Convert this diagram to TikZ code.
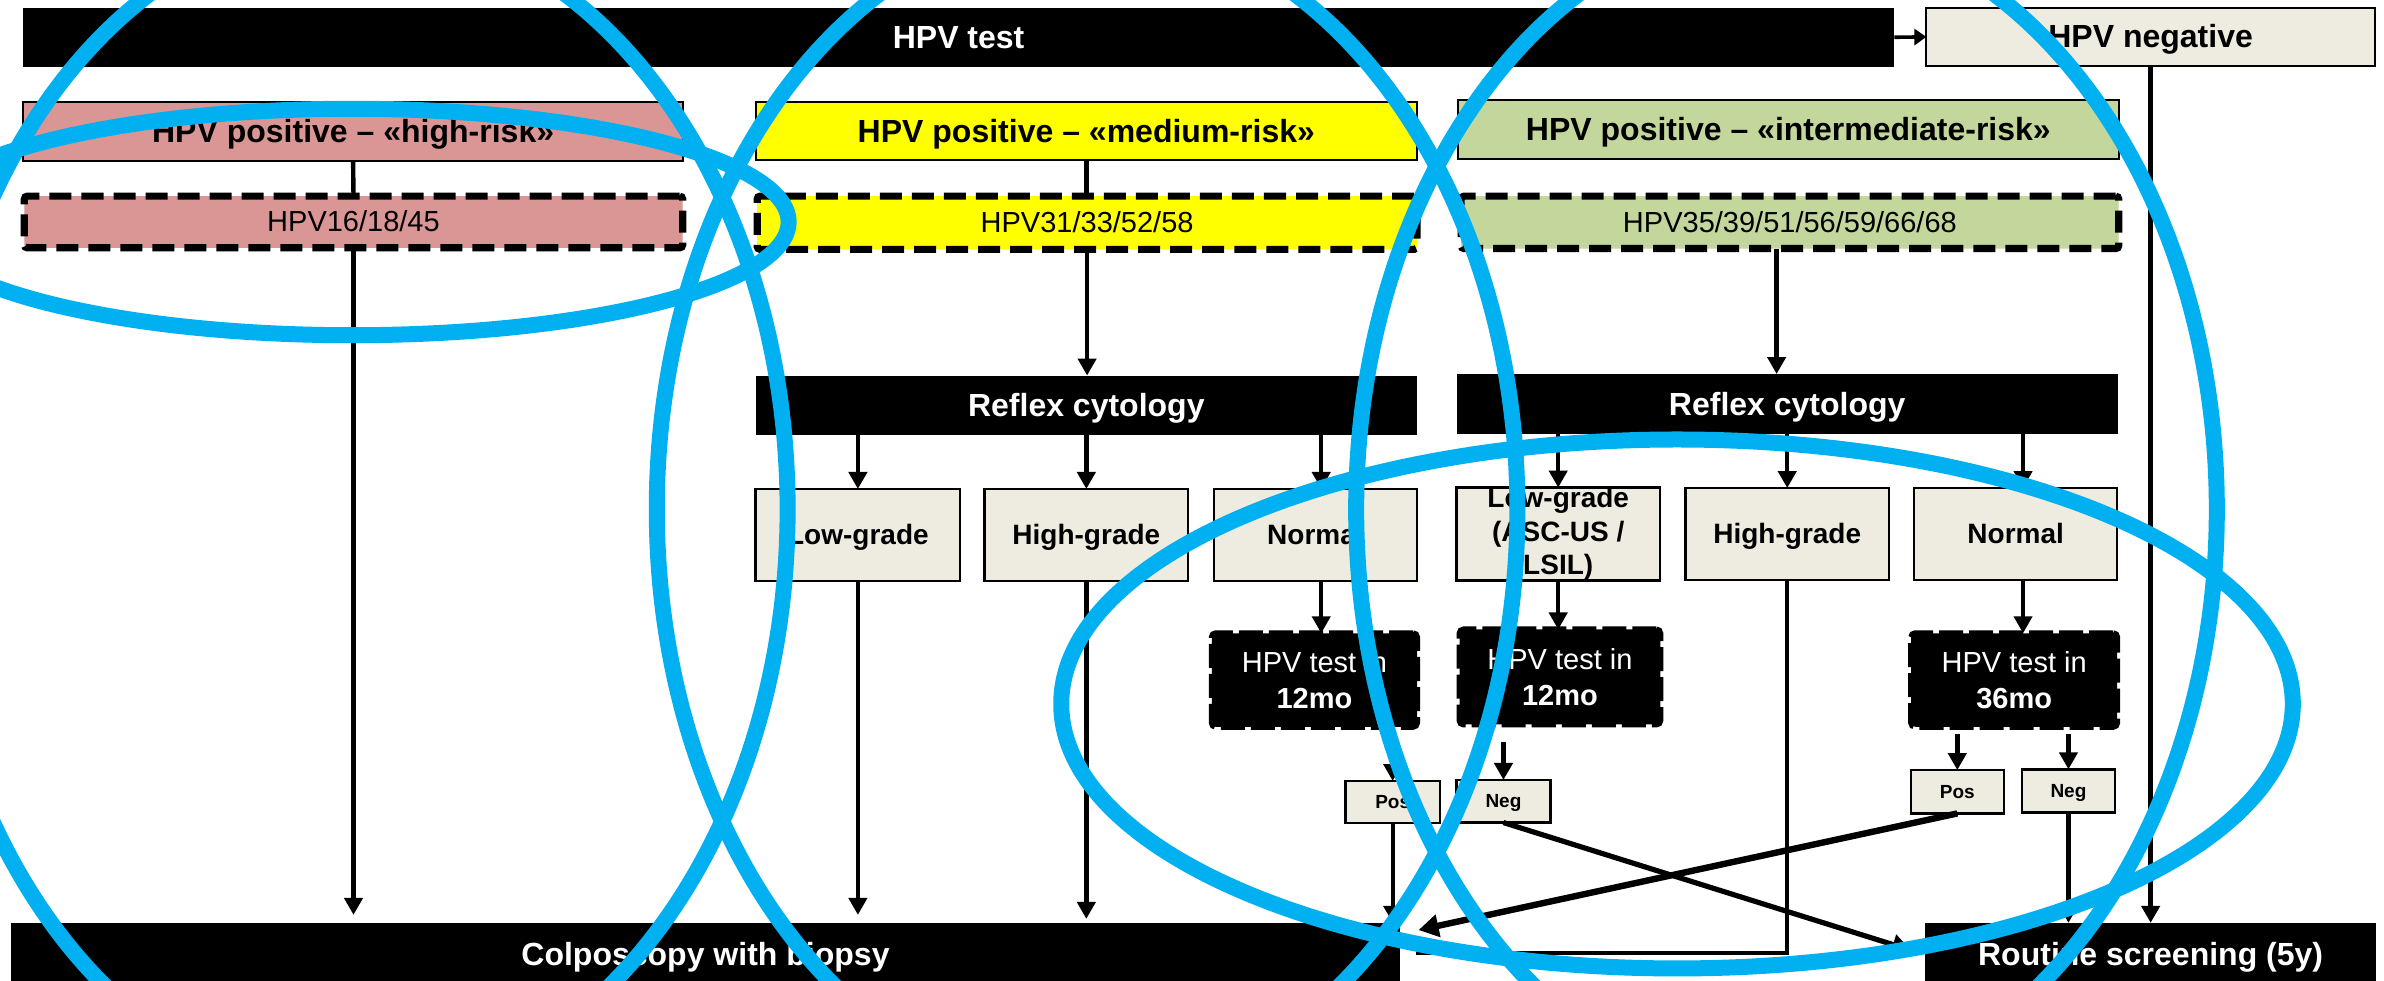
\documentclass[tikz,border=0pt]{standalone}
\usepackage{fontspec}
\setmainfont{Liberation Sans}
\usetikzlibrary{arrows.meta}
\definecolor{pinkf}{HTML}{DA9694}
\definecolor{yellowf}{HTML}{FFFF00}
\definecolor{greenf}{HTML}{C3D69B}
\definecolor{beigef}{HTML}{EEECE1}
\definecolor{ringc}{HTML}{00B0F0}
\tikzset{
  base/.style={inner sep=0pt, outer sep=0pt, align=center},
  fsixteen/.style={font=\fontsize{16}{19}\selectfont\bfseries, text height=14.5pt, text depth=3.4pt},
  blackbar/.style={base, fill=black, text=white, fsixteen},
  headbox/.style={base, draw=black, line width=1pt, fsixteen},
  typebox/.style={base, draw=black, line width=3.6pt, dash pattern=on 11pt off 5pt,
    rounded corners=1.5pt, font=\fontsize{14.5}{17}\selectfont, text height=13.1pt, text depth=3.1pt},
  resbox/.style={base, draw=black, line width=1.2pt, fill=beigef, font=\fontsize{14}{16.7}\selectfont\bfseries},
  resone/.style={resbox, text height=12.7pt, text depth=3pt},
  testbox/.style={base, draw=black, fill=black, line width=3pt, dash pattern=on 12pt off 3pt,
    rounded corners=2pt, text=white, font=\fontsize{14.5}{18.2}\selectfont},
  pnbox/.style={base, draw=black, line width=1.2pt, fill=beigef,
    font=\fontsize{9.5}{11}\selectfont\bfseries, text height=8.6pt, text depth=2pt},
  conn/.style={line width=2.2pt},
  arr/.style={conn, -{Triangle[length=8.5pt,width=9pt]}},
  smallarr/.style={line width=1.8pt, -{Triangle[length=6pt,width=8pt]}},
  midarr/.style={line width=2.6pt, -{Triangle[length=9.5pt,width=10pt]}},
  thickarr/.style={line width=3.2pt, -{Triangle[length=10pt,width=11pt]}},
  ring/.style={draw=ringc, line width=8pt},
}
\newcommand\bx[7]{\node[#2, minimum width={(#5-#3)*0.76pt}, minimum height={(#6-#4)*0.76pt}] (#1) at ({(#3+#5)/2},{(#4+#6)/2}) {#7};}
\begin{document}
\begin{tikzpicture}[x=0.76pt, y=-0.76pt]
\useasboundingbox (0,0) rectangle (1568,645);
\clip (0,0) rectangle (1568,645);

% top row
\bx{test}{blackbar}{15}{5}{1246}{44}{HPV test}
\bx{neg}{headbox, fill=beigef}{1267}{5}{1562}{43.5}{HPV negative}

% risk groups
\bx{hr}{headbox, fill=pinkf}{15}{67}{449.5}{106}{HPV positive – «high-risk»}
\bx{mr}{headbox, fill=yellowf}{497}{67}{932}{105.5}{HPV positive – «medium-risk»}
\bx{ir}{headbox, fill=greenf}{959}{66}{1393.5}{104.5}{HPV positive – «intermediate-risk»}

% genotypes
\bx{hrt}{typebox, fill=pinkf}{16}{129}{449}{163}{HPV16/18/45}
\bx{mrt}{typebox, fill=yellowf}{498}{129}{932}{164}{HPV31/33/52/58}
\bx{irt}{typebox, fill=greenf}{961}{129}{1393.5}{163.5}{HPV35/39/51/56/59/66/68}

% reflex cytology
\bx{rc1}{blackbar}{497}{247}{932}{286}{Reflex cytology}
\bx{rc2}{blackbar}{958}{246}{1393}{285.5}{Reflex cytology}

% cytology results
\bx{lg1}{resone}{497}{321.6}{631.5}{382}{Low-grade}
\bx{hg1}{resone}{647.6}{321.6}{781.4}{382}{High-grade}
\bx{nm1}{resone}{798.4}{321.6}{932}{382}{Normal}
\bx{lg2}{resbox}{958}{321}{1091.7}{381.5}{Low-grade\\(ASC-US /\\LSIL)}
\bx{hg2}{resone}{1108.6}{321}{1242.4}{381.5}{High-grade}
\bx{nm2}{resone}{1259}{321}{1392.5}{381.5}{Normal}

% follow-up HPV tests
\bx{t1}{testbox}{797}{416.5}{932}{478}{HPV test in\\\textbf{12mo}}
\bx{t2}{testbox}{960}{414}{1092}{476.5}{HPV test in\\\textbf{12mo}}
\bx{t3}{testbox}{1257}{416.5}{1392.5}{478}{HPV test in\\\textbf{36mo}}

% pos / neg
\bx{p1}{pnbox}{885}{513.7}{947}{541.4}{Pos}
\bx{n1}{pnbox}{958}{513}{1019.7}{541}{Neg}
\bx{p2}{pnbox}{1256.7}{506.5}{1318}{535}{Pos}
\bx{n2}{pnbox}{1329.7}{506}{1391.2}{534.5}{Neg}

% outcomes
\bx{colpo}{blackbar}{7}{607}{921}{649}{Colposcopy with biopsy}
\bx{rs}{blackbar}{1266}{607}{1563}{649}{Routine screening (5y)}

% helper coordinates
\coordinate (xa) at (1168.5,0);
\coordinate (xb) at (869,0);
\coordinate (xc) at (1330.6,0);
\coordinate (rsin) at (1257,625);
\coordinate (colpin) at (933,611.7);
\coordinate (hgend) at (931,626.6);

% connectors
\draw[smallarr] (test.east) -- (neg.west);
\draw[conn] (hr.south) -- (hrt.north);
\draw[arr] (hrt.south) -- ([yshift=4pt]hrt.south |- colpo.north);
\draw[conn] (mr.south) -- (mr.south |- mrt.north);
\draw[arr] (mrt.south) -- (mrt.south |- rc1.north);
\draw[arr] (xa |- irt.south) -- (xa |- rc2.north);

\draw[arr] (lg1.north |- rc1.south) -- (lg1.north);
\draw[arr] (hg1.north |- rc1.south) -- (hg1.north);
\draw[arr] (xb |- rc1.south) -- (xb |- nm1.north);
\draw[arr] (lg2.north |- rc2.south) -- (lg2.north);
\draw[arr] (hg2.north |- rc2.south) -- (hg2.north);
\draw[arr] (xc |- rc2.south) -- (xc |- nm2.north);

\draw[arr] (lg1.south) -- ([yshift=4pt]lg1.south |- colpo.north);
\draw[arr] (hg1.south) -- ([yshift=2pt]hg1.south |- colpo.north);
\draw[arr] (xb |- nm1.south) -- (xb |- t1.north);
\draw[arr] (lg2.south) -- (lg2.south |- t2.north);
\draw[conn] (hg2.south) |- (hgend);
\draw[arr] (xc |- nm2.south) -- (xc |- t3.north);

\draw[arr] ([yshift=-7pt]p1.north |- t1.south) -- (p1.north);
\draw[arr] ([yshift=-9pt]n1.north |- t2.south) -- (n1.north);
\draw[arr] ([yshift=-3.5pt]p2.north |- t3.south) -- (p2.north);
\draw[arr] ([yshift=-3.5pt]n2.north |- t3.south) -- (n2.north);

\draw[arr] (p1.south) -- (p1.south |- colpo.north);
\draw[midarr] (n1.south) -- (rsin);
\draw[thickarr] (p2.south) -- (colpin);
\draw[arr] (n2.south) -- (n2.south |- rs.north);
\draw[arr] (neg.south) -- (neg.south |- rs.north);

% overlaid rings
\draw[ring] (235,335) ellipse [x radius=215.1pt, y radius=294.1pt];
\draw[ring] (715,335) ellipse [x radius=215.1pt, y radius=294.1pt];
\draw[ring] (1175,335) ellipse [x radius=215.1pt, y radius=294.1pt];
\draw[ring] (1103,463) ellipse [x radius=307.8pt, y radius=132.2pt];
\draw[ring] (231.7,146) ellipse [x radius=218.1pt, y radius=56.6pt];
\end{tikzpicture}
\end{document}
